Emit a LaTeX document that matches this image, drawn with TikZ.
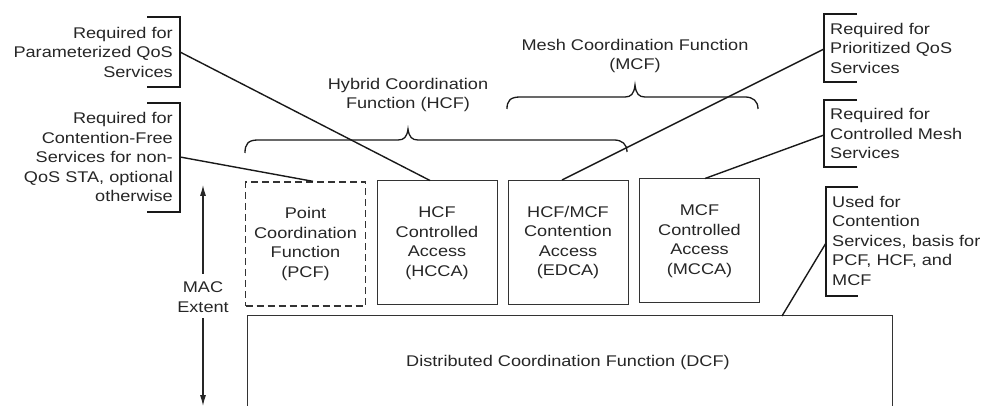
\documentclass[tikz,border=0pt]{standalone}
\usepackage{fontspec}
\setmainfont{Liberation Sans}[FakeStretch=1.17]
\usetikzlibrary{arrows.meta}
\begin{document}
\begin{tikzpicture}[x=1pt,y=-1pt,
  every node/.style={font=\fontsize{15.5}{19.5}\selectfont, inner sep=0pt, text=black!85},
  func/.style={draw=black!80, line width=1.0pt, align=center, minimum width=120pt, minimum height=124pt},
  dfunc/.style={func, line width=1.3pt, dash pattern=on 7pt off 4pt},
  conn/.style={draw=black!90, line width=1.4pt},
  brk/.style={draw=black!90, line width=1.4pt},
  lbl/.style={align=right, anchor=east},
  rlbl/.style={align=left, anchor=west},
  macarrow/.style={draw=black!85, line width=1.1pt, -{Latex[length=11pt,width=6pt]}}
]
\useasboundingbox (0,0) rectangle (986,406);

% function boxes
\node[dfunc] (pcf)  at (305.5,244) {Point\\Coordination\\Function\\(PCF)};
\node[func]  (hcca) at (437,243)   {HCF\\Controlled\\Access\\(HCCA)};
\node[func]  (edca) at (568,242.5) {HCF/MCF\\Contention\\Access\\(EDCA)};
\node[func]  (mcca) at (699.5,241) {MCF\\Controlled\\Access\\(MCCA)};

% DCF box (open at the bottom edge)
\coordinate (dcfbl) at (247,412);
\coordinate (dcftl) at (247,316);
\coordinate (dcftr) at (892,316);
\coordinate (dcfbr) at (892,412);
\draw[black!80, line width=1.0pt] (dcfbl) -- (dcftl) -- (dcftr) -- (dcfbr);
\node (dcf) at (568,362) {Distributed Coordination Function (DCF)};
\coordinate (dcftop) at (782,316);

% MAC extent
\node[align=center] (mac) at (203,297) {MAC\\Extent};
\coordinate (mactop) at (203,185);
\coordinate (macbot) at (203,406);
\draw[macarrow] ([yshift=8pt]mac.north) -- (mactop);
\draw[macarrow] ([yshift=-6pt]mac.south) -- (macbot);

% left labels with brackets
\node[lbl] (lpq) at (173,52) {Required for\\Parameterized QoS\\Services};
\draw[brk] (147,17) -- (180,17) -- (180,87) -- (147,87);
\coordinate (lpqb) at (180,52);

\node[lbl] (lcf) at (173,157) {Required for\\Contention-Free\\Services for non-\\QoS STA, optional\\otherwise};
\draw[brk] (147,103) -- (180,103) -- (180,212) -- (147,212);
\coordinate (lcfb) at (180,157);

% right labels with brackets
\node[rlbl] (rpq) at (830,48) {Required for\\Prioritized QoS\\Services};
\draw[brk] (857,14) -- (824,14) -- (824,82) -- (857,82);
\coordinate (rpqb) at (824,49);

\node[rlbl] (rcm) at (830,133.5) {Required for\\Controlled Mesh\\Services};
\draw[brk] (857,100) -- (824,100) -- (824,167) -- (857,167);
\coordinate (rcmb) at (824,135);

\node[rlbl] (rcs) at (832,240.5) {Used for\\Contention\\Services, basis for\\PCF, HCF, and\\MCF};
\draw[brk] (858,187) -- (826,187) -- (826,296) -- (858,296);
\coordinate (rcsb) at (826,243);

% connectors
\draw[conn] (lpqb) -- ([xshift=-7pt]hcca.north);
\draw[conn] (lcfb) -- ([xshift=7.5pt]pcf.north);
\draw[conn] (rpqb) -- ([xshift=-6pt]edca.north);
\draw[conn] (rcmb) -- ([xshift=5.5pt]mcca.north);
\draw[conn] (rcsb) -- (dcftop);

% HCF brace
\draw[brk, line width=1.3pt] (245,153) .. controls (245,144) and (248,140) .. (258,140)
  -- (398,140) .. controls (404,140) and (407,137) .. (408,129)
  .. controls (409,137) and (412,140) .. (418,140)
  -- (614,140) .. controls (622,140) and (627,144) .. (627,152);
\node[align=center] (hcf) at (408,95) {Hybrid Coordination\\Function (HCF)};

% MCF brace
\draw[brk, line width=1.3pt] (507,109) .. controls (507,101) and (510,97) .. (520,97)
  -- (625,97) .. controls (631,97) and (634,94) .. (635,85)
  .. controls (636,94) and (639,97) .. (645,97)
  -- (745,97) .. controls (753,97) and (758,101) .. (758,109);
\node[align=center] (mcf) at (635,56) {Mesh Coordination Function\\(MCF)};
\end{tikzpicture}
\end{document}
